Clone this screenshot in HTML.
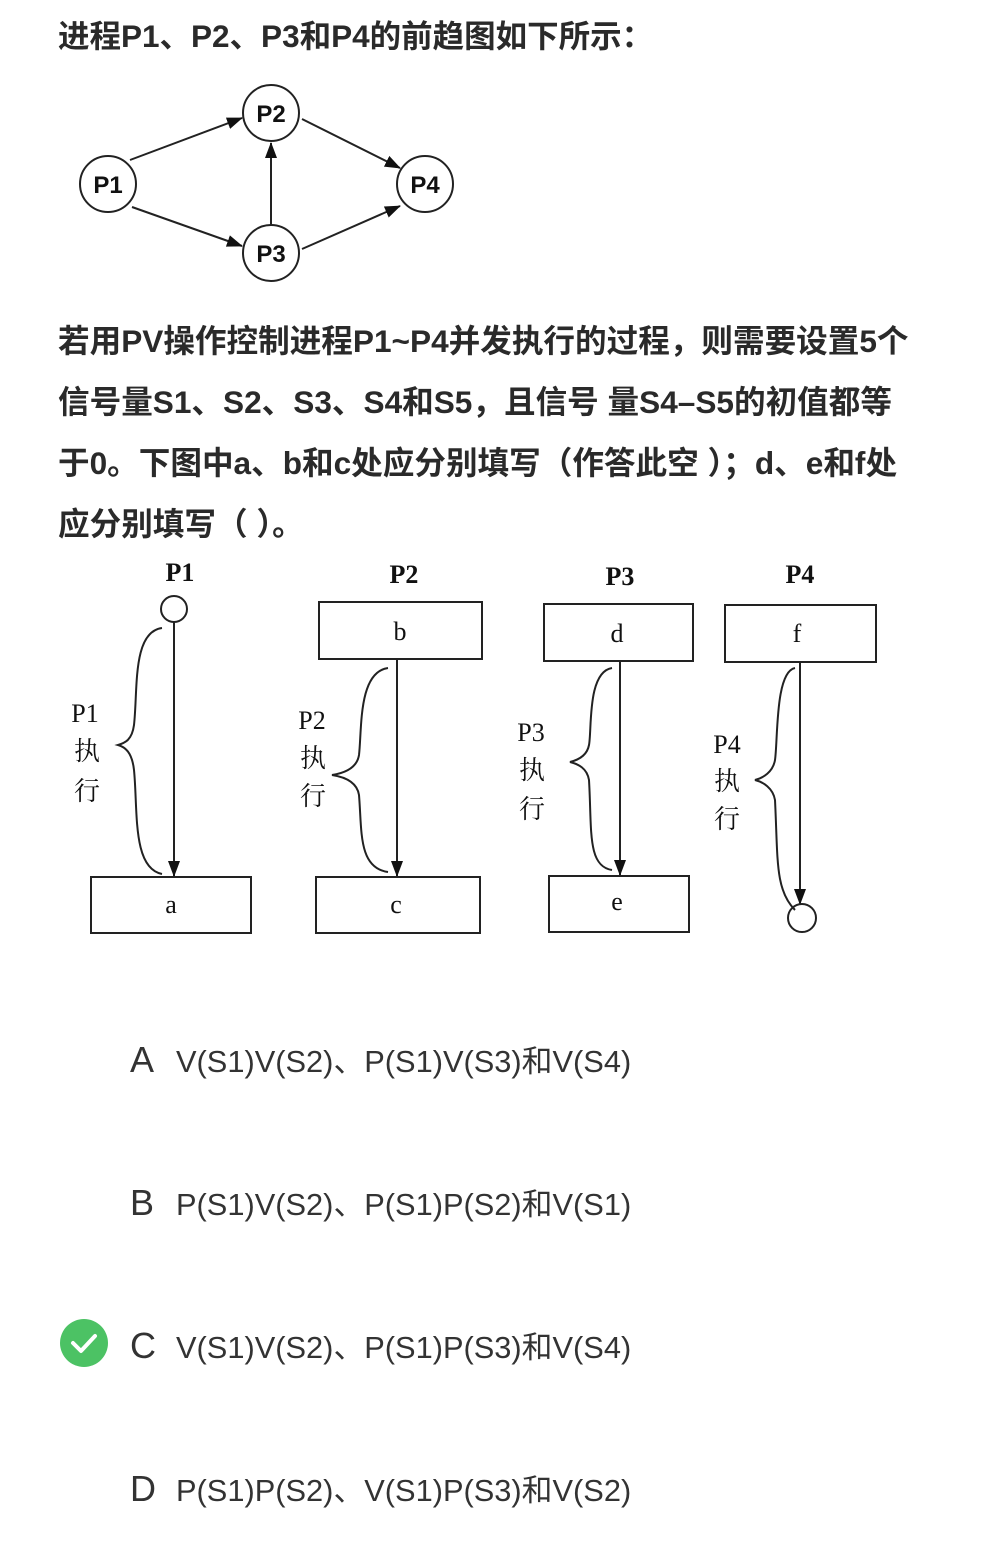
<!DOCTYPE html>
<html><head><meta charset="utf-8"><style>
body{margin:0;width:994px;height:1550px;background:#fff;position:relative;font-family:"Liberation Sans","Noto Sans CJK SC",sans-serif;color:#222;overflow:hidden}
.t{position:absolute;left:58px;font-size:31.6px;font-weight:bold;white-space:nowrap;color:#2a2a2a}
.opt{position:absolute;left:130px;font-size:30.8px;white-space:nowrap;color:#333}
.opt b{font-weight:normal;font-size:36px;display:inline-block;width:46px}
</style></head><body>
<div class="t" style="top:11px;font-size:31.5px">进程P1、P2、P3和P4的前趋图如下所示：</div>
<div class="t" style="top:316px">若用PV操作控制进程P1~P4并发执行的过程，则需要设置5个</div>
<div class="t" style="top:377px">信号量S1、S2、S3、S4和S5，且信号 量S4–S5的初值都等</div>
<div class="t" style="top:438px">于0。下图中a、b和c处应分别填写（作答此空 ）；d、e和f处</div>
<div class="t" style="top:499px">应分别填写（ ）。</div>
<svg width="994" height="1000" style="position:absolute;left:0;top:0" font-family="Liberation Serif,Noto Serif CJK SC,serif">
<defs><marker id="ar" markerWidth="16" markerHeight="14" refX="15" refY="7" orient="auto" markerUnits="userSpaceOnUse"><path d="M0,1 L16,7 L0,13z" fill="#111"/></marker></defs>
<g stroke="#222" stroke-width="2" fill="none">
<circle cx="108" cy="184" r="28"/><circle cx="271" cy="113" r="28"/><circle cx="271" cy="253" r="28"/><circle cx="425" cy="184" r="28"/>
<line x1="130" y1="160" x2="242" y2="118" marker-end="url(#ar)"/>
<line x1="132" y1="207" x2="242" y2="246" marker-end="url(#ar)"/>
<line x1="271" y1="225" x2="271" y2="143" marker-end="url(#ar)"/>
<line x1="302" y1="119" x2="400" y2="168" marker-end="url(#ar)"/>
<line x1="302" y1="249" x2="400" y2="206" marker-end="url(#ar)"/>
</g>
<g font-family="Liberation Sans,sans-serif" font-weight="bold" font-size="24" text-anchor="middle" fill="#111">
<text x="108" y="193">P1</text><text x="271" y="122">P2</text><text x="271" y="262">P3</text><text x="425" y="193">P4</text></g>
<g stroke="#222" stroke-width="2" fill="none">
<circle cx="174" cy="609" r="13"/>
<line x1="174" y1="622" x2="174" y2="876" marker-end="url(#ar)"/>
<rect x="91" y="877" width="160" height="56"/>
<path d="M162,628 C132,632 138,690 134,725 C132,740 125,743 118,745 C125,747 132,752 134,770 C138,810 132,868 162,874"/>
<rect x="319" y="602" width="163" height="57"/>
<line x1="397" y1="660" x2="397" y2="876" marker-end="url(#ar)"/>
<rect x="316" y="877" width="164" height="56"/>
<path d="M388,668 C358,672 362,730 359,755 C357,768 345,773 332,775 C345,777 357,782 359,795 C362,830 358,868 388,872"/>
<rect x="544" y="604" width="149" height="57"/>
<line x1="620" y1="661" x2="620" y2="875" marker-end="url(#ar)"/>
<rect x="549" y="876" width="140" height="56"/>
<path d="M612,668 C587,672 592,730 589,745 C587,756 578,760 570,762 C578,764 587,768 589,780 C592,830 587,866 612,870"/>
<rect x="725" y="605" width="151" height="57"/>
<line x1="800" y1="662" x2="800" y2="904" marker-end="url(#ar)"/>
<circle cx="802" cy="918" r="14"/>
<path d="M795,668 C775,672 778,740 775,760 C773,772 763,778 755,780 C763,782 773,788 775,800 C778,860 775,890 795,910"/>
</g>
<g font-size="26" text-anchor="middle" fill="#111">
<text x="180" y="581" font-weight="bold">P1</text><text x="404" y="583" font-weight="bold">P2</text><text x="620" y="585" font-weight="bold">P3</text><text x="800" y="583" font-weight="bold">P4</text>
<text x="171" y="913">a</text><text x="400" y="640">b</text><text x="396" y="913">c</text><text x="617" y="642">d</text><text x="617" y="910">e</text><text x="797" y="642">f</text>
<text x="85" y="722">P1</text><text x="87" y="760">执</text><text x="87" y="800">行</text>
<text x="312" y="729">P2</text><text x="313" y="767">执</text><text x="313" y="805">行</text>
<text x="531" y="741">P3</text><text x="532" y="779">执</text><text x="532" y="818">行</text>
<text x="727" y="753">P4</text><text x="727" y="790">执</text><text x="727" y="828">行</text>
</g></svg>
<div class="opt" style="top:1036px"><b>A</b>V(S1)V(S2)、P(S1)V(S3)和V(S4)</div>
<div class="opt" style="top:1179px"><b>B</b>P(S1)V(S2)、P(S1)P(S2)和V(S1)</div>
<div class="opt" style="top:1322px"><b>C</b>V(S1)V(S2)、P(S1)P(S3)和V(S4)</div>
<div class="opt" style="top:1465px"><b>D</b>P(S1)P(S2)、V(S1)P(S3)和V(S2)</div>
<svg width="50" height="50" style="position:absolute;left:59px;top:1318px"><circle cx="25" cy="25" r="24" fill="#4cc264"/><path d="M14,25 L22,33 L36,18" stroke="#fff" stroke-width="4" fill="none" stroke-linecap="round" stroke-linejoin="round"/></svg>
</body></html>
